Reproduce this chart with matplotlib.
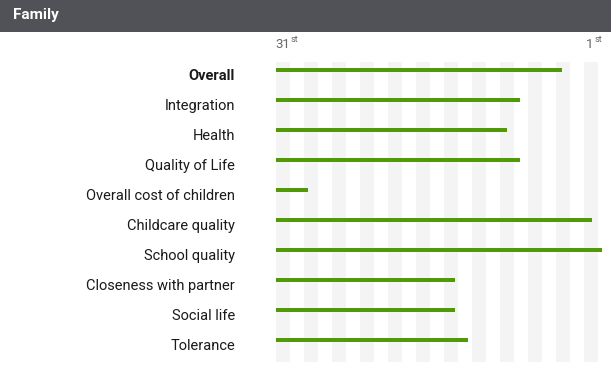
import matplotlib
matplotlib.use("Agg")
import matplotlib.pyplot as plt
import matplotlib.transforms as mtransforms
from matplotlib.patches import Rectangle
import numpy as np

# ---- data ----
title = "Family"
categories = ["Overall", "Integration", "Health", "Quality of Life",
              "Overall cost of children", "Childcare quality", "School quality",
              "Closeness with partner", "Social life", "Tolerance"]
# position on the ranking scale (31st = worst, 1st = best)
ranks = [4.7, 8.5, 9.7, 8.5, 28.1, 1.9, 1.0, 14.5, 14.5, 13.3]
scale_labels = [("31", "st"), ("1", "st")]
worst_rank, best_rank = 31, 1

W, H, DPI = 611, 366, 100
fig = plt.figure(figsize=(W / DPI, H / DPI), dpi=DPI)
fig.patch.set_facecolor("white")

def px(x, y):
    return x / W, 1 - y / H

# header bar
fig.patches.append(Rectangle((0, 1 - 32 / H), 1, 32 / H, transform=fig.transFigure,
                             facecolor="#515257", edgecolor="none", zorder=0))
fig.text(*px(13, 15), title, color="white", fontsize=11, fontweight="bold",
         family=["Roboto", "DejaVu Sans"], va="center", ha="left")

# axes
ax_left, ax_right = 276, 602
ax_top, ax_bot = 62, 362
ax = fig.add_axes([ax_left / W, 1 - ax_bot / H, (ax_right - ax_left) / W, (ax_bot - ax_top) / H])
ax.set_facecolor("none")
for s in ax.spines.values():
    s.set_visible(False)
ax.set_xticks([])
ax.set_yticks([])
n = len(categories)
ax.set_xlim(worst_rank, best_rank)
ax.set_ylim(n - 1 + 0.733, -0.267)

# background stripes (decoration)
axw = ax_right - ax_left
for k in range(12):
    ax.add_patch(Rectangle((28 * k / axw, 0), 14 / axw, 1, transform=ax.transAxes,
                           facecolor="#f4f4f4", edgecolor="none", zorder=0))

ypos = np.arange(n)
vals = np.array(ranks)
ax.barh(ypos, vals - worst_rank, left=worst_rank, height=0.16, color="#4f9a06", zorder=2)

# category labels
lab_trans = mtransforms.blended_transform_factory(fig.transFigure, ax.transData)
off = mtransforms.ScaledTranslation(0, -6 / DPI, fig.dpi_scale_trans)
for i, c in enumerate(categories):
    ax.text(235 / W, i, c, transform=lab_trans + off, ha="right", va="center",
            fontsize=10.5, color="#1a1a1a", family=["Roboto", "DejaVu Sans"],
            fontweight="bold" if i == 0 else "normal")

# scale labels
t1 = fig.text(*px(275, 44), scale_labels[0][0], fontsize=9.5, color="#666666",
              family=["Roboto", "DejaVu Sans"], va="center", ha="left")
fig.canvas.draw()
bb = t1.get_window_extent()
fig.text(bb.x1 / W + 1 / W, px(0, 40)[1], scale_labels[0][1], fontsize=6.5, color="#666666",
         family=["Roboto", "DejaVu Sans"], va="center", ha="left")
t2 = fig.text(*px(586, 44), scale_labels[1][0], fontsize=9.5, color="#666666",
              family=["Roboto", "DejaVu Sans"], va="center", ha="left")
fig.canvas.draw()
bb = t2.get_window_extent()
fig.text(bb.x1 / W + 1 / W, px(0, 40)[1], scale_labels[1][1], fontsize=6.5, color="#666666",
         family=["Roboto", "DejaVu Sans"], va="center", ha="left")

fig.savefig("out.png", dpi=DPI)
